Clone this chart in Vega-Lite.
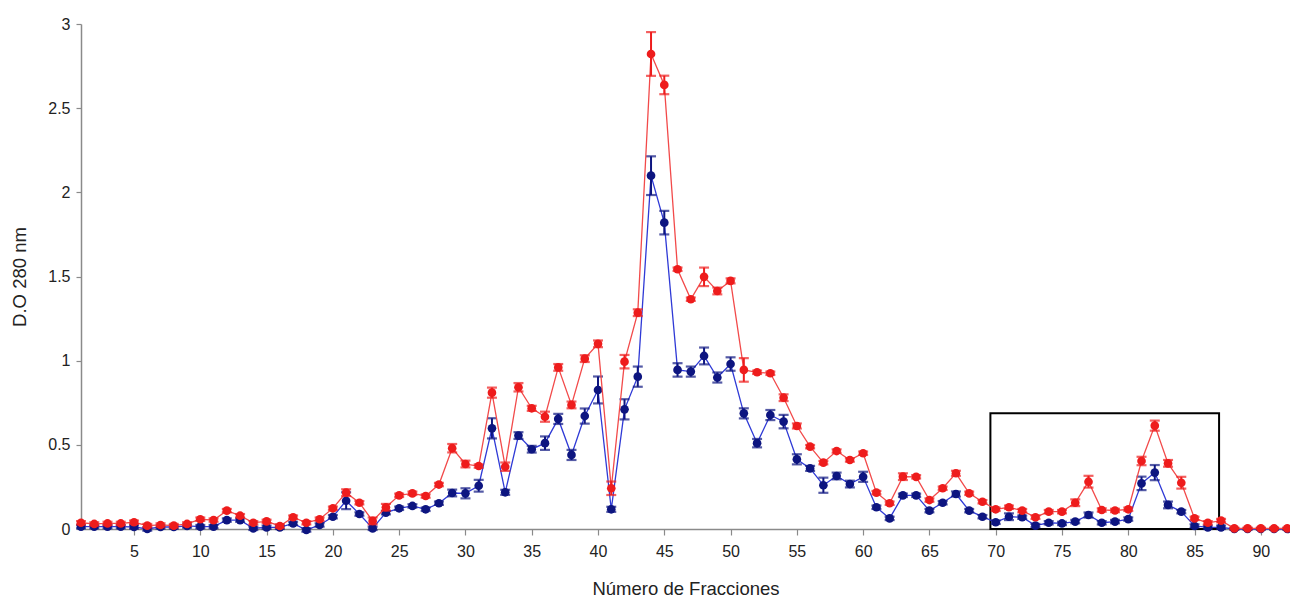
{
  "$schema": "https://vega.github.io/schema/vega-lite/v6.json",
  "width": 1209,
  "height": 505,
  "autosize": {"type": "none"},
  "padding": {"left": 81, "top": 24, "right": 0, "bottom": 73},
  "background": "white",
  "config": {
    "view": {"stroke": null},
    "font": "Liberation Sans",
    "axis": {"grid": false, "domainColor": "#8a8a8a", "domainWidth": 1.5, "tickColor": "#8a8a8a", "tickWidth": 1.2, "labelFont": "Liberation Sans", "labelFontSize": 16, "labelColor": "#222222", "titleFont": "Liberation Sans", "titleFontSize": 18.5, "titleFontWeight": "normal", "titleColor": "#222222"}
  },
  "datasets": {
    "box": [{"x1": 69.6, "x2": 86.85, "y1": 0, "y2": 0.687}],
    "pts": [
      {"f":1,"s":"r","v":0.037,"e":0.01},{"f":2,"s":"r","v":0.03,"e":0.01},{"f":3,"s":"r","v":0.033,"e":0.01},{"f":4,"s":"r","v":0.033,"e":0.01},{"f":5,"s":"r","v":0.04,"e":0.01},{"f":6,"s":"r","v":0.02,"e":0.01},{"f":7,"s":"r","v":0.024,"e":0.01},{"f":8,"s":"r","v":0.02,"e":0.01},{"f":9,"s":"r","v":0.03,"e":0.01},{"f":10,"s":"r","v":0.058,"e":0.01},
      {"f":11,"s":"r","v":0.053,"e":0.01},{"f":12,"s":"r","v":0.109,"e":0.01},{"f":13,"s":"r","v":0.079,"e":0.01},{"f":14,"s":"r","v":0.037,"e":0.01},{"f":15,"s":"r","v":0.045,"e":0.01},{"f":16,"s":"r","v":0.018,"e":0.01},{"f":17,"s":"r","v":0.07,"e":0.01},{"f":18,"s":"r","v":0.037,"e":0.01},{"f":19,"s":"r","v":0.058,"e":0.01},{"f":20,"s":"r","v":0.123,"e":0.01},
      {"f":21,"s":"r","v":0.216,"e":0.02},{"f":22,"s":"r","v":0.156,"e":0.01},{"f":23,"s":"r","v":0.048,"e":0.02},{"f":24,"s":"r","v":0.129,"e":0.02},{"f":25,"s":"r","v":0.2,"e":0.01},{"f":26,"s":"r","v":0.212,"e":0.01},{"f":27,"s":"r","v":0.196,"e":0.01},{"f":28,"s":"r","v":0.264,"e":0.01},{"f":29,"s":"r","v":0.48,"e":0.025},{"f":30,"s":"r","v":0.386,"e":0.02},
      {"f":31,"s":"r","v":0.374,"e":0.01},{"f":32,"s":"r","v":0.81,"e":0.03},{"f":33,"s":"r","v":0.37,"e":0.025},{"f":34,"s":"r","v":0.842,"e":0.025},{"f":35,"s":"r","v":0.717,"e":0.015},{"f":36,"s":"r","v":0.667,"e":0.03},{"f":37,"s":"r","v":0.96,"e":0.02},{"f":38,"s":"r","v":0.737,"e":0.02},{"f":39,"s":"r","v":1.012,"e":0.02},{"f":40,"s":"r","v":1.1,"e":0.02},
      {"f":41,"s":"r","v":0.242,"e":0.04},{"f":42,"s":"r","v":0.994,"e":0.04},{"f":43,"s":"r","v":1.285,"e":0.02},{"f":44,"s":"r","v":2.822,"e":0.13},{"f":45,"s":"r","v":2.638,"e":0.055},{"f":46,"s":"r","v":1.543,"e":0.01},{"f":47,"s":"r","v":1.365,"e":0.01},{"f":48,"s":"r","v":1.498,"e":0.055},{"f":49,"s":"r","v":1.414,"e":0.02},{"f":50,"s":"r","v":1.474,"e":0.015},
      {"f":51,"s":"r","v":0.945,"e":0.07},{"f":52,"s":"r","v":0.931,"e":0.01},{"f":53,"s":"r","v":0.925,"e":0.01},{"f":54,"s":"r","v":0.78,"e":0.02},{"f":55,"s":"r","v":0.612,"e":0.015},{"f":56,"s":"r","v":0.489,"e":0.01},{"f":57,"s":"r","v":0.394,"e":0.01},{"f":58,"s":"r","v":0.463,"e":0.01},{"f":59,"s":"r","v":0.41,"e":0.01},{"f":60,"s":"r","v":0.45,"e":0.01},
      {"f":61,"s":"r","v":0.216,"e":0.01},{"f":62,"s":"r","v":0.153,"e":0.01},{"f":63,"s":"r","v":0.311,"e":0.02},{"f":64,"s":"r","v":0.31,"e":0.01},{"f":65,"s":"r","v":0.172,"e":0.01},{"f":66,"s":"r","v":0.242,"e":0.01},{"f":67,"s":"r","v":0.331,"e":0.015},{"f":68,"s":"r","v":0.212,"e":0.01},{"f":69,"s":"r","v":0.162,"e":0.01},{"f":70,"s":"r","v":0.117,"e":0.01},
      {"f":71,"s":"r","v":0.129,"e":0.01},{"f":72,"s":"r","v":0.109,"e":0.01},{"f":73,"s":"r","v":0.07,"e":0.01},{"f":74,"s":"r","v":0.103,"e":0.01},{"f":75,"s":"r","v":0.103,"e":0.01},{"f":76,"s":"r","v":0.156,"e":0.02},{"f":77,"s":"r","v":0.281,"e":0.035},{"f":78,"s":"r","v":0.113,"e":0.01},{"f":79,"s":"r","v":0.11,"e":0.01},{"f":80,"s":"r","v":0.117,"e":0.01},
      {"f":81,"s":"r","v":0.404,"e":0.025},{"f":82,"s":"r","v":0.614,"e":0.03},{"f":83,"s":"r","v":0.39,"e":0.02},{"f":84,"s":"r","v":0.275,"e":0.035},{"f":85,"s":"r","v":0.063,"e":0.01},{"f":86,"s":"r","v":0.037,"e":0.01},{"f":87,"s":"r","v":0.05,"e":0.01},{"f":88,"s":"r","v":0.004,"e":0.005},{"f":89,"s":"r","v":0.004,"e":0.005},{"f":90,"s":"r","v":0.004,"e":0.005},
      {"f":91,"s":"r","v":0.004,"e":0.005},{"f":92,"s":"r","v":0.004,"e":0.005},
      {"f":1,"s":"b","v":0.014,"e":0.01},{"f":2,"s":"b","v":0.014,"e":0.01},{"f":3,"s":"b","v":0.014,"e":0.01},{"f":4,"s":"b","v":0.014,"e":0.01},{"f":5,"s":"b","v":0.012,"e":0.01},{"f":6,"s":"b","v":0.0,"e":0.01},{"f":7,"s":"b","v":0.012,"e":0.01},{"f":8,"s":"b","v":0.012,"e":0.01},{"f":9,"s":"b","v":0.018,"e":0.01},{"f":10,"s":"b","v":0.014,"e":0.01},
      {"f":11,"s":"b","v":0.014,"e":0.01},{"f":12,"s":"b","v":0.053,"e":0.01},{"f":13,"s":"b","v":0.053,"e":0.01},{"f":14,"s":"b","v":0.004,"e":0.01},{"f":15,"s":"b","v":0.01,"e":0.01},{"f":16,"s":"b","v":0.01,"e":0.01},{"f":17,"s":"b","v":0.033,"e":0.01},{"f":18,"s":"b","v":-0.006,"e":0.01},{"f":19,"s":"b","v":0.024,"e":0.01},{"f":20,"s":"b","v":0.073,"e":0.01},
      {"f":21,"s":"b","v":0.168,"e":0.05},{"f":22,"s":"b","v":0.089,"e":0.01},{"f":23,"s":"b","v":0.004,"e":0.01},{"f":24,"s":"b","v":0.097,"e":0.01},{"f":25,"s":"b","v":0.123,"e":0.01},{"f":26,"s":"b","v":0.137,"e":0.01},{"f":27,"s":"b","v":0.117,"e":0.01},{"f":28,"s":"b","v":0.153,"e":0.01},{"f":29,"s":"b","v":0.214,"e":0.02},{"f":30,"s":"b","v":0.212,"e":0.03},
      {"f":31,"s":"b","v":0.257,"e":0.035},{"f":32,"s":"b","v":0.598,"e":0.06},{"f":33,"s":"b","v":0.218,"e":0.015},{"f":34,"s":"b","v":0.555,"e":0.02},{"f":35,"s":"b","v":0.474,"e":0.02},{"f":36,"s":"b","v":0.51,"e":0.04},{"f":37,"s":"b","v":0.654,"e":0.03},{"f":38,"s":"b","v":0.44,"e":0.03},{"f":39,"s":"b","v":0.671,"e":0.045},{"f":40,"s":"b","v":0.826,"e":0.08},
      {"f":41,"s":"b","v":0.117,"e":0.015},{"f":42,"s":"b","v":0.711,"e":0.06},{"f":43,"s":"b","v":0.905,"e":0.06},{"f":44,"s":"b","v":2.099,"e":0.115},{"f":45,"s":"b","v":1.82,"e":0.07},{"f":46,"s":"b","v":0.945,"e":0.04},{"f":47,"s":"b","v":0.935,"e":0.03},{"f":48,"s":"b","v":1.028,"e":0.05},{"f":49,"s":"b","v":0.9,"e":0.03},{"f":50,"s":"b","v":0.98,"e":0.04},
      {"f":51,"s":"b","v":0.687,"e":0.03},{"f":52,"s":"b","v":0.51,"e":0.025},{"f":53,"s":"b","v":0.677,"e":0.03},{"f":54,"s":"b","v":0.638,"e":0.04},{"f":55,"s":"b","v":0.414,"e":0.03},{"f":56,"s":"b","v":0.36,"e":0.015},{"f":57,"s":"b","v":0.26,"e":0.045},{"f":58,"s":"b","v":0.315,"e":0.02},{"f":59,"s":"b","v":0.267,"e":0.02},{"f":60,"s":"b","v":0.31,"e":0.03},
      {"f":61,"s":"b","v":0.129,"e":0.01},{"f":62,"s":"b","v":0.063,"e":0.01},{"f":63,"s":"b","v":0.2,"e":0.01},{"f":64,"s":"b","v":0.2,"e":0.01},{"f":65,"s":"b","v":0.109,"e":0.01},{"f":66,"s":"b","v":0.156,"e":0.01},{"f":67,"s":"b","v":0.208,"e":0.015},{"f":68,"s":"b","v":0.109,"e":0.01},{"f":69,"s":"b","v":0.073,"e":0.01},{"f":70,"s":"b","v":0.04,"e":0.01},
      {"f":71,"s":"b","v":0.073,"e":0.02},{"f":72,"s":"b","v":0.07,"e":0.01},{"f":73,"s":"b","v":0.02,"e":0.01},{"f":74,"s":"b","v":0.037,"e":0.01},{"f":75,"s":"b","v":0.033,"e":0.01},{"f":76,"s":"b","v":0.044,"e":0.01},{"f":77,"s":"b","v":0.083,"e":0.015},{"f":78,"s":"b","v":0.037,"e":0.01},{"f":79,"s":"b","v":0.044,"e":0.01},{"f":80,"s":"b","v":0.059,"e":0.01},
      {"f":81,"s":"b","v":0.271,"e":0.04},{"f":82,"s":"b","v":0.335,"e":0.045},{"f":83,"s":"b","v":0.143,"e":0.02},{"f":84,"s":"b","v":0.103,"e":0.01},{"f":85,"s":"b","v":0.018,"e":0.01},{"f":86,"s":"b","v":0.01,"e":0.01},{"f":87,"s":"b","v":0.01,"e":0.01},{"f":88,"s":"b","v":0.0,"e":0.005},{"f":89,"s":"b","v":0.0,"e":0.005},{"f":90,"s":"b","v":0.0,"e":0.005},
      {"f":91,"s":"b","v":0.0,"e":0.005},{"f":92,"s":"b","v":0.0,"e":0.005}
    ]
  },
  "layer": [
    {
      "data": {"name": "box"},
      "mark": {"type": "rect", "fill": null, "fillOpacity": 0, "stroke": "black", "strokeWidth": 2},
      "encoding": {
        "x": {"field": "x1", "type": "quantitative", "title": "Número de Fracciones", "scale": {"domain": [1, 92.2], "nice": false, "zero": false},
              "axis": {"values": [5,10,15,20,25,30,35,40,45,50,55,60,65,70,75,80,85,90], "tickSize": 6, "labelPadding": 8, "titlePadding": 20}},
        "x2": {"field": "x2"},
        "y": {"field": "y1", "type": "quantitative", "title": "D.O 280 nm", "scale": {"domain": [0, 3], "nice": false},
              "axis": {"values": [0,0.5,1,1.5,2,2.5,3], "format": "~g", "tickSize": 5, "labelPadding": 6, "titlePadding": 18}},
        "y2": {"field": "y2"}
      }
    },
    {
      "data": {"name": "pts"},
      "transform": [{"filter": "datum.s == 'b'"}],
      "mark": {"type": "line", "color": "#2f3ad6", "strokeWidth": 1.3},
      "encoding": {"x": {"field": "f", "type": "quantitative", "title": "Número de Fracciones"}, "y": {"field": "v", "type": "quantitative", "title": "D.O 280 nm"}}
    },
    {
      "data": {"name": "pts"},
      "transform": [{"filter": "datum.s == 'b'"}],
      "mark": {"type": "errorbar", "color": "#0d1580", "thickness": 2, "ticks": {"size": 10, "thickness": 2.2, "color": "#0d1580"}},
      "encoding": {"x": {"field": "f", "type": "quantitative", "title": "Número de Fracciones"}, "y": {"field": "v", "type": "quantitative", "title": "D.O 280 nm"}, "yError": {"field": "e"}}
    },
    {
      "data": {"name": "pts"},
      "transform": [{"filter": "datum.s == 'b'"}],
      "mark": {"type": "circle", "color": "#0d1580", "opacity": 1, "size": 75},
      "encoding": {"x": {"field": "f", "type": "quantitative", "title": "Número de Fracciones"}, "y": {"field": "v", "type": "quantitative", "title": "D.O 280 nm"}}
    },
    {
      "data": {"name": "pts"},
      "transform": [{"filter": "datum.s == 'r'"}],
      "mark": {"type": "line", "color": "#f24a4a", "strokeWidth": 1.3},
      "encoding": {"x": {"field": "f", "type": "quantitative", "title": "Número de Fracciones"}, "y": {"field": "v", "type": "quantitative", "title": "D.O 280 nm"}}
    },
    {
      "data": {"name": "pts"},
      "transform": [{"filter": "datum.s == 'r'"}],
      "mark": {"type": "errorbar", "color": "#ee1c1c", "thickness": 2, "ticks": {"size": 10, "thickness": 2.2, "color": "#ee1c1c"}},
      "encoding": {"x": {"field": "f", "type": "quantitative", "title": "Número de Fracciones"}, "y": {"field": "v", "type": "quantitative", "title": "D.O 280 nm"}, "yError": {"field": "e"}}
    },
    {
      "data": {"name": "pts"},
      "transform": [{"filter": "datum.s == 'r'"}],
      "mark": {"type": "circle", "color": "#ee1c1c", "opacity": 1, "size": 75},
      "encoding": {"x": {"field": "f", "type": "quantitative", "title": "Número de Fracciones"}, "y": {"field": "v", "type": "quantitative", "title": "D.O 280 nm"}}
    }
  ]
}
